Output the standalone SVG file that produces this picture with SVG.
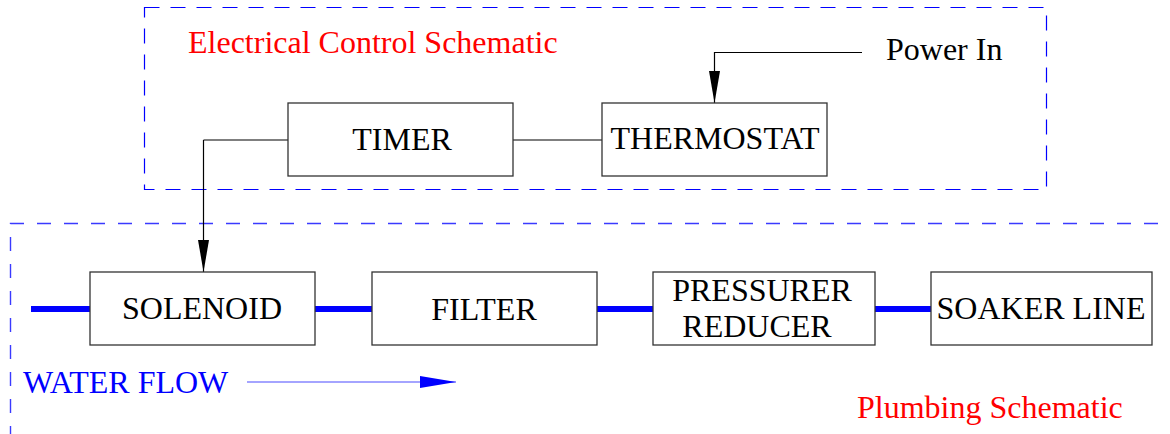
<svg xmlns="http://www.w3.org/2000/svg" width="1170" height="434" viewBox="0 0 1170 434">
<style>
text{font-family:"Liberation Serif","Times New Roman",serif;font-size:32px;text-anchor:middle}
.box{fill:#fff;stroke:#333;stroke-width:1.3}
.lbl{fill:#000}
.wire{fill:none;stroke:#000;stroke-width:1.2}
.wire2{fill:none;stroke:#555;stroke-width:1.3}
.pipe{fill:none;stroke:#0000ff;stroke-width:6}
.frame{fill:none;stroke:#0000ff;stroke-width:1.2;stroke-dasharray:15 11}
.frame2{fill:none;stroke:#3a3aff;stroke-width:1.4;stroke-dasharray:14 13}
.red{fill:#ff0000;text-anchor:start}
</style>
<defs>
<marker id="ah" markerUnits="userSpaceOnUse" markerWidth="34" markerHeight="12" refX="32" refY="6" orient="auto">
<path d="M0,0.5 L32,6 L0,11.5 Z" fill="#000"/>
</marker>
<marker id="ahb" markerUnits="userSpaceOnUse" markerWidth="38" markerHeight="14" refX="36" refY="7" orient="auto">
<path d="M0,1 L36,7 L0,13 Z" fill="#0000ff"/>
</marker>
</defs>
<g id="frames">
<rect class="frame" x="144.5" y="7.5" width="902" height="182"/>
<path class="frame2" d="M10.5,440 V223.5 H1175"/>
</g>
<g id="labels">
<text class="red" x="188" y="53">Electrical Control Schematic</text>
<text class="lbl" x="886" y="60" style="text-anchor:start">Power In</text>
<text x="23" y="393" style="text-anchor:start;fill:#0000ff">WATER FLOW</text>
<text class="red" x="857" y="418">Plumbing Schematic</text>
</g>
<g id="connectors">
<path class="wire2" d="M513,140 H602"/>
<path class="wire2" d="M288,140 H203.5"/>
<path class="wire" d="M203.5,140 V272" marker-end="url(#ah)"/>
<path class="wire" d="M862,52.5 H714.5 V103" marker-end="url(#ah)"/>
<path class="pipe" d="M31,309 H90"/>
<path class="pipe" d="M315,309 H372"/>
<path class="pipe" d="M597,309 H653"/>
<path class="pipe" d="M875,309 H931"/>
<path d="M247,382 H456" fill="none" stroke="#4a4aff" stroke-width="1.2" marker-end="url(#ahb)"/>
</g>
<g id="timer">
<rect class="box" x="288" y="103" width="225" height="73"/>
<text class="lbl" x="402" y="150">TIMER</text>
</g>
<g id="thermostat">
<rect class="box" x="602" y="103" width="225" height="73"/>
<text class="lbl" x="715" y="149">THERMOSTAT</text>
</g>
<g id="solenoid">
<rect class="box" x="90" y="272" width="225" height="73"/>
<text class="lbl" x="202" y="319">SOLENOID</text>
</g>
<g id="filter">
<rect class="box" x="372" y="272" width="225" height="73"/>
<text class="lbl" x="484" y="320">FILTER</text>
</g>
<g id="pressure-reducer">
<rect class="box" x="653" y="272" width="222" height="73"/>
<text class="lbl" x="762" y="301">PRESSURER</text>
<text class="lbl" x="757" y="337">REDUCER</text>
</g>
<g id="soaker-line">
<rect class="box" x="931" y="272" width="221" height="73"/>
<text class="lbl" x="1041" y="319">SOAKER LINE</text>
</g>
</svg>
